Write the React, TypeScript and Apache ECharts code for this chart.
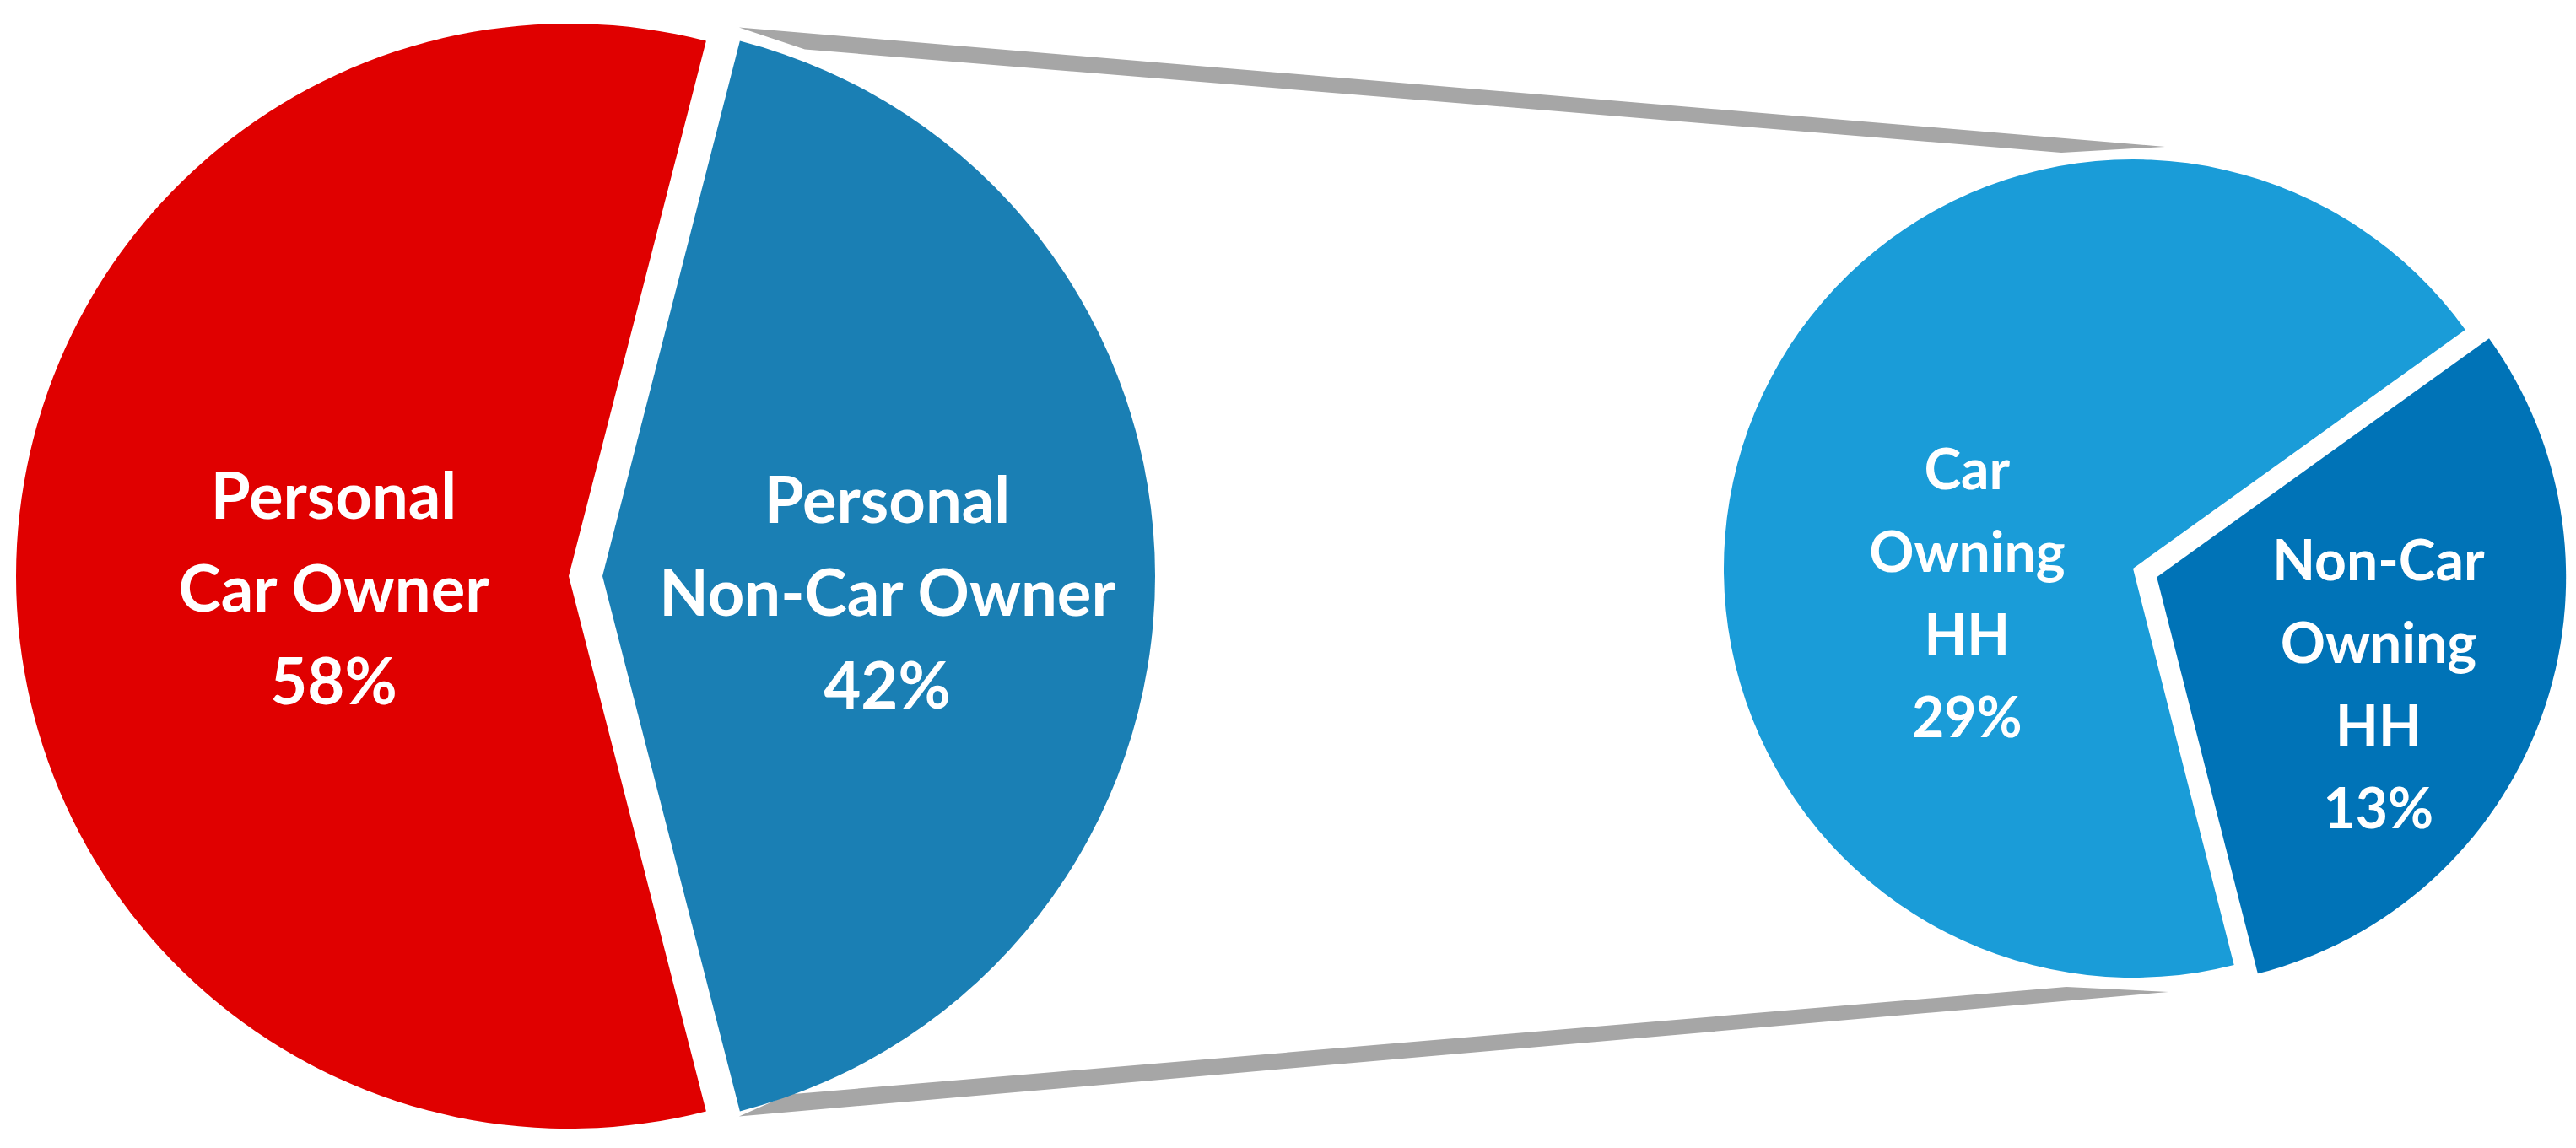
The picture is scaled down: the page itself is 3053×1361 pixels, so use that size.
import React, { useEffect, useRef } from "react";
import * as echarts from "echarts";

// ---- data ----
const mainCategories = ["Personal\nCar Owner", "Personal\nNon-Car Owner"];
const mainValues = [58, 42];
const subCategories = ["Car\nOwning\nHH", "Non-Car\nOwning\nHH"];
const subValues = [29, 13];

// ---- styles / layout ----
const W = 3053;
const H = 1361;
const mainColors = ["#E00000", "#1A7FB4"];
const subColors = ["#1A9CD8", "#0073B7"];
const connectorColor = "#A6A6A6";
const FONT = "Lato, 'Open Sans', sans-serif";

const L = { cx: 674, cy: 683, r: 655, offset: 40 };
const R = { cx: 2528, cy: 674, r: 485, offset: 30 };

// label nudges (relative to library default inside position)
const mainLabelShift = [
  [52, 12],
  [7, 17],
];
const subLabelShift = [
  [34, 111],
  [32, 41],
];

export default function App() {
  const ref = useRef<HTMLDivElement>(null);

  useEffect(() => {
    if (!ref.current) return;
    const chart = echarts.init(ref.current, undefined, { renderer: "svg" });

    const mainTotal = mainValues.reduce((a, b) => a + b, 0);
    const splitShare = mainValues[1] / mainTotal; // share exploded into second pie
    const half = splitShare * 180; // half angle of the blue slice, centred on east
    const mainStart = 360 - half;

    const subTotal = subValues.reduce((a, b) => a + b, 0);
    const subHalf = (subValues[1] / subTotal) * 180;
    const subMid = -20;
    const subStart = 360 + subMid - subHalf;

    const rad = (d: number) => (d * Math.PI) / 180;
    const bx = L.cx + L.offset + L.r * Math.cos(rad(half));
    const byTop = L.cy - L.r * Math.sin(rad(half));
    const byBot = L.cy + L.r * Math.sin(rad(half));
    const rTop = R.cy - R.r;
    const rBot = R.cy + R.r;

    const topConnector = [
      [bx - 1, byTop - 16],
      [R.cx + 38, rTop - 15],
      [R.cx - 85, rTop - 8],
      [bx + 77, byTop + 10],
    ];
    const botConnector = [
      [bx - 1, byBot + 6],
      [bx + 58, byBot - 20],
      [R.cx - 79, rBot + 11],
      [R.cx + 42, rBot + 17],
    ];

    const labelBase = {
      show: true,
      position: "inside",
      color: "#FFFFFF",
      fontFamily: FONT,
      fontWeight: "bold",
      align: "center",
      formatter: (p: any) => `${p.name}\n${p.value}%`,
    };

    chart.setOption({
      animation: false,
      backgroundColor: "#FFFFFF",
      graphic: [
        {
          type: "polygon",
          shape: { points: topConnector },
          style: { fill: connectorColor },
          silent: true,
        },
        {
          type: "polygon",
          shape: { points: botConnector },
          style: { fill: connectorColor },
          silent: true,
        },
      ],
      series: [
        {
          type: "pie",
          center: [L.cx, L.cy],
          radius: L.r,
          startAngle: mainStart,
          clockwise: true,
          selectedMode: "single",
          selectedOffset: L.offset,
          avoidLabelOverlap: false,
          silent: true,
          emphasis: { disabled: true },
          labelLine: { show: false },
          label: { ...labelBase, fontSize: 76, lineHeight: 110 },
          labelLayout: (p: any) => ({
            dx: mainLabelShift[p.dataIndex][0],
            dy: mainLabelShift[p.dataIndex][1],
          }),
          data: mainCategories.map((name, i) => ({
            name,
            value: mainValues[i],
            selected: i === 1,
            itemStyle: { color: mainColors[i] },
          })),
        },
        {
          type: "pie",
          center: [R.cx, R.cy],
          radius: R.r,
          startAngle: subStart,
          clockwise: true,
          selectedMode: "single",
          selectedOffset: R.offset,
          avoidLabelOverlap: false,
          silent: true,
          emphasis: { disabled: true },
          labelLine: { show: false },
          label: { ...labelBase, fontSize: 66, lineHeight: 98 },
          labelLayout: (p: any) => ({
            dx: subLabelShift[p.dataIndex][0],
            dy: subLabelShift[p.dataIndex][1],
          }),
          data: subCategories.map((name, i) => ({
            name,
            value: subValues[i],
            selected: i === 1,
            itemStyle: { color: subColors[i] },
          })),
        },
      ],
    });

    return () => chart.dispose();
  }, []);

  return (
    <div
      ref={ref}
      style={{ position: "fixed", left: 0, top: 0, width: W, height: H }}
    />
  );
}
